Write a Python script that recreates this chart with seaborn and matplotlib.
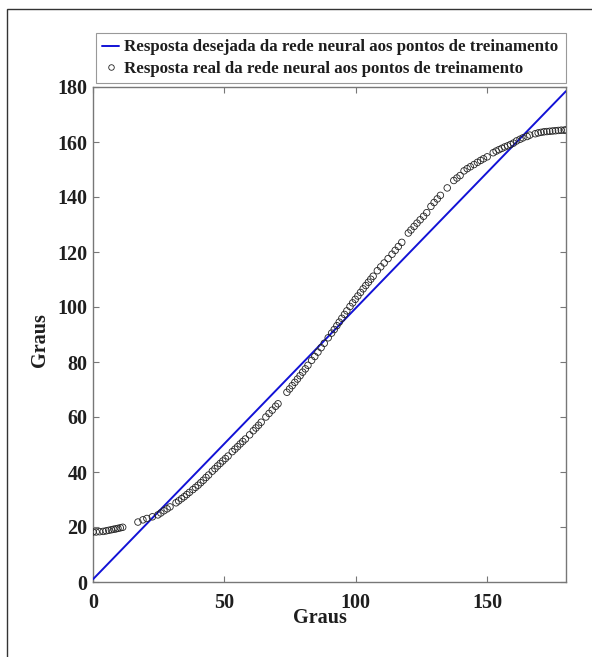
import matplotlib
matplotlib.use("Agg")
import matplotlib.pyplot as plt
from matplotlib.patches import Rectangle
from matplotlib.lines import Line2D
import seaborn as sns
import pandas as pd

# Desired response of the network (reference line)
line_x = [0.0, 180.0]
line_y = [1.0, 178.5]

# Actual response of the network at the training points
pts_x = [0.0, 1.2, 2.5, 3.9, 5.0, 6.0, 7.0, 7.9, 8.7, 9.5, 10.4, 11.3,
         17.1, 19.0, 20.5, 22.6,
         24.7, 25.8, 27.0, 28.2, 29.3,
         31.6, 32.6, 33.7, 34.7, 35.7, 36.7,
         38.0, 39.0, 40.0, 41.0, 42.0, 43.0, 44.0,
         45.4, 46.4, 47.4, 48.4, 49.4, 50.4, 51.4,
         53.0, 54.0, 55.0, 56.0, 57.0, 58.0,
         59.6, 61.0, 62.0, 63.0, 64.0,
         65.8, 67.0, 68.2, 69.5, 70.4,
         73.8, 74.8, 75.8, 76.8, 77.8, 78.8, 79.8, 80.8, 81.8,
         83.2, 84.4, 85.6, 86.8, 88.0, 89.5, 90.8, 91.8, 92.8, 93.7, 94.7, 95.7, 96.6,
         97.8, 98.8, 99.8, 100.8, 101.8, 102.8, 103.8, 104.8, 105.7, 106.6,
         108.2, 109.5, 110.8, 112.3, 113.8,
         115.0, 116.2, 117.5,
         120.0, 121.0, 122.2, 123.3, 124.5, 125.8, 127.0,
         128.6, 129.8, 131.0, 132.2, 134.8,
         137.3, 138.5, 139.7, 141.2, 142.4, 143.6, 145.0, 146.3, 147.5, 148.6, 150.0,
         152.3, 153.4, 154.5, 155.6, 156.7, 157.8, 158.9, 160.0,
         161.2, 162.5, 163.6, 165.2, 166.2,
         168.3, 169.4, 170.5, 171.6, 172.7, 173.8, 174.9, 176.0, 177.1, 178.2, 179.3, 180.0]
pts_y = [18.2, 18.2, 18.3, 18.4, 18.6, 18.8, 19.0, 19.2, 19.3, 19.5, 19.7, 19.9,
         21.8, 22.6, 23.1, 23.7,
         24.4, 25.1, 25.9, 26.6, 27.3,
         28.8, 29.5, 30.3, 31.0, 31.8, 32.6,
         33.6, 34.4, 35.2, 36.1, 37.0, 38.0, 38.9,
         40.3, 41.2, 42.2, 43.1, 44.0, 44.9, 45.8,
         47.4, 48.3, 49.2, 50.2, 51.1, 52.0,
         53.5, 55.0, 56.0, 57.0, 58.1,
         60.0, 61.3, 62.5, 63.9, 64.8,
         69.0, 70.2, 71.4, 72.6, 73.8, 75.0, 76.3, 77.5, 78.8,
         80.6, 82.0, 83.6, 85.2, 86.8, 88.8, 90.5, 91.8, 93.2, 94.5, 95.9, 97.3, 98.6,
         100.2, 101.5, 102.8, 104.0, 105.3, 106.6, 107.8, 109.0, 110.1, 111.2,
         113.2, 114.6, 116.0, 117.6, 119.2,
         120.6, 122.0, 123.5,
         126.9, 128.0, 129.3, 130.5, 131.7, 133.0, 134.3,
         136.6, 138.0, 139.3, 140.6, 143.3,
         146.0, 146.9, 147.8, 149.5, 150.3, 151.0, 151.8, 152.6, 153.3, 153.9, 154.6,
         156.1, 156.7, 157.2, 157.7, 158.2, 158.6, 159.1, 159.6,
         160.4, 161.0, 161.5, 162.0, 162.5,
         163.0, 163.3, 163.5, 163.7, 163.8, 163.9, 164.0, 164.1, 164.2, 164.3, 164.3, 164.4]

x_ticks = [0, 50, 100, 150]
y_ticks = [0, 20, 40, 60, 80, 100, 120, 140, 160, 180]

label_line = "Resposta desejada da rede neural aos pontos de treinamento"
label_pts = "Resposta real da rede neural aos pontos de treinamento"
axis_label = "Graus"

sns.set_theme(style="white")
plt.rcParams["font.family"] = ["Liberation Serif", "DejaVu Serif"]
plt.rcParams["font.weight"] = "bold"

fig = plt.figure(figsize=(5.92, 6.57), dpi=100)
ax = fig.add_axes([93 / 592, 1 - 582 / 657, (566 - 93) / 592, (582 - 87) / 657])

line_df = pd.DataFrame({"x": line_x, "y": line_y})
pts_df = pd.DataFrame({"x": pts_x, "y": pts_y})

line_color = "#1212d6"
text_color = "#1e1e1e"
sns.lineplot(data=line_df, x="x", y="y", ax=ax, color=line_color, lw=1.4, zorder=3)
sns.scatterplot(data=pts_df, x="x", y="y", ax=ax, marker="o", s=22,
                facecolor="none", edgecolor="#222222", linewidth=0.6, zorder=4)

ax.set_xlim(0, 180)
ax.set_ylim(0, 180)
ax.set_xticks(x_ticks)
ax.set_yticks(y_ticks)
ax.set_xticklabels([str(t) for t in x_ticks], fontsize=14.5, fontweight="bold")
ax.set_yticklabels([str(t) for t in y_ticks], fontsize=14.5, fontweight="bold")
ax.tick_params(axis="both", direction="in", length=4, width=0.8, color="#777777",
               top=True, right=True, bottom=True, left=True, labelcolor=text_color)
ax.tick_params(axis="x", pad=8)
ax.tick_params(axis="y", pad=4)
for sp in ax.spines.values():
    sp.set_visible(True)
    sp.set_color("#777777")
    sp.set_linewidth(1.0)

ax.set_xlabel(axis_label, fontsize=14.5, fontweight="bold", color=text_color, va="top")
ax.set_ylabel(axis_label, fontsize=14.5, fontweight="bold", color=text_color)
ax.xaxis.set_label_coords(0.48, -0.052)
ax.yaxis.set_label_coords(-0.091, 0.489)

handles = [Line2D([0], [0], color=line_color, lw=1.4),
           Line2D([0], [0], marker="o", ls="none", markersize=4,
                  markerfacecolor="none", markeredgecolor="#222222", markeredgewidth=0.6)]
leg = fig.legend(handles, [label_line, label_pts], loc="lower left",
                 bbox_to_anchor=(96 / 592, 1 - 83 / 657, (566 - 96) / 592, 48 / 657),
                 mode="expand", frameon=True, fancybox=False, framealpha=1,
                 edgecolor="#999999",
                 prop={"family": "Liberation Serif", "weight": "bold", "size": 12.2},
                 handlelength=1.0, handletextpad=0.25, borderpad=0.38, labelspacing=0.3,
                 borderaxespad=0, labelcolor=text_color)
leg.get_frame().set_linewidth(0.8)

# outer frame around the figure
fig.patches.append(Rectangle((7 / 592, -0.05), 1.1, 1 - 9 / 657 + 0.05,
                             transform=fig.transFigure, fill=False,
                             edgecolor="#333333", lw=1.0))

fig.savefig("out.png", dpi=100)
